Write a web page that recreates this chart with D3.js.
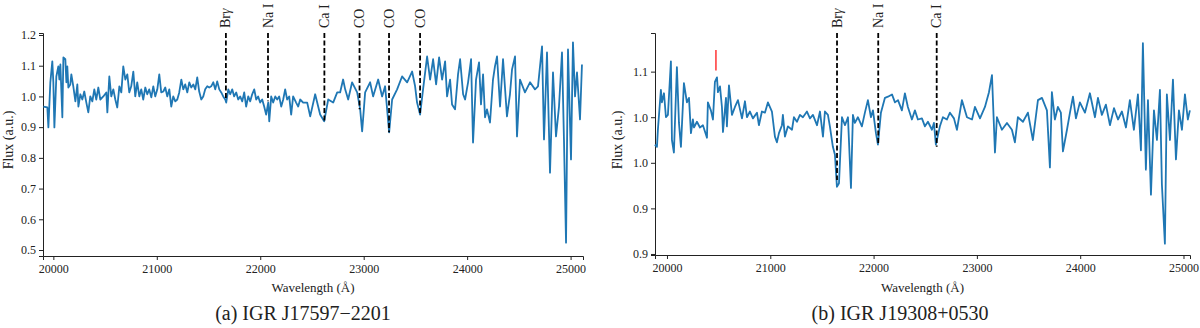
<!DOCTYPE html>
<meta charset="utf-8">
<style>
  body { margin: 0; background: #fff; }
  text { font-family: "Liberation Serif", "Times New Roman", serif; fill: #222; }
</style>
<svg id="fig" width="1200" height="328"></svg>
<script src="https://d3js.org/d3.v7.min.js"></script>
<script>

// (a) IGR J17597-2201 : wavelength (A) and normalised flux
var wlA = [19903,19942,19952,19971,19990,20000,20010,20029,20048,20058,20068,20087,20097,20116,20126,20135,20145,20164,20174,20193,
  20213,20232,20242,20261,20280,20299,20319,20338,20357,20377,20396,20415,20435,20454,20483,20512,20522,20541,20560,20580,
  20599,20618,20638,20657,20676,20696,20715,20734,20753,20773,20792,20811,20831,20850,20869,20889,20908,20927,20947,20966,
  20985,21005,21024,21043,21063,21082,21101,21121,21140,21159,21179,21198,21217,21237,21256,21275,21295,21314,21333,21353,
  21372,21391,21410,21430,21449,21468,21488,21507,21526,21546,21565,21584,21604,21623,21642,21662,21671,21691,21710,21729,
  21748,21768,21787,21806,21826,21845,21864,21884,21903,21922,21942,21961,21980,21999,22019,22038,22057,22077,22087,22106,
  22125,22145,22164,22183,22203,22222,22241,22260,22280,22299,22318,22347,22367,22386,22415,22454,22483,22531,22579,22618,
  22657,22705,22744,22772,22801,22821,22850,22888,22937,22966,22985,23014,23062,23091,23140,23178,23207,23246,23275,23323,
  23371,23420,23468,23497,23516,23545,23574,23613,23642,23671,23700,23729,23758,23787,23806,23835,23854,23883,23912,23932,
  23961,23980,24009,24038,24057,24086,24115,24134,24154,24173,24192,24221,24250,24269,24289,24318,24347,24385,24414,24434,
  24463,24482,24511,24559,24608,24656,24685,24724,24743,24772,24801,24830,24859,24888,24917,24936,24956,24975,25004,25023,
  25043,25062,25091,25110];
var fluxA = [0.967,0.964,0.899,1.046,1.114,1.046,0.899,1.065,1.098,1.055,1.104,0.932,1.127,1.121,1.046,1.098,1.029,1.039,1.072,1.033,
  0.984,1.039,0.967,1.007,0.990,1.016,0.980,0.948,1.000,0.984,1.023,0.990,1.029,0.990,1.000,1.013,0.948,1.065,1.000,1.023,
  0.990,0.964,1.033,1.013,1.098,1.055,1.072,1.013,1.033,1.081,1.000,1.046,1.000,1.023,0.990,1.029,1.007,1.023,0.997,1.033,
  1.000,1.023,1.072,1.013,1.016,1.029,1.000,1.023,0.967,1.000,0.984,0.990,1.013,1.055,1.023,1.039,1.013,1.046,1.029,1.039,
  1.023,1.062,1.016,0.990,1.000,1.023,1.033,1.029,1.033,1.046,1.023,1.049,1.023,1.013,1.000,0.990,0.980,1.023,1.007,1.023,
  1.000,1.013,0.990,1.000,0.984,1.013,0.967,1.000,0.984,1.007,1.023,0.990,1.000,0.980,0.990,0.967,0.941,0.980,0.919,1.000,
  0.980,1.000,0.990,1.000,0.967,0.990,1.023,0.990,1.000,0.941,1.000,0.980,0.967,0.990,0.980,0.980,0.935,1.007,0.941,0.919,
  0.990,0.980,1.013,1.013,1.055,1.023,0.990,1.046,1.013,0.958,0.886,1.013,1.046,1.000,1.055,1.000,1.033,0.883,0.990,1.023,
  1.065,1.046,1.081,1.033,0.980,0.941,1.023,1.130,1.055,1.121,1.039,1.127,1.055,1.114,1.000,1.055,0.974,0.958,1.072,1.121,
  1.007,0.990,1.046,1.121,0.850,1.055,1.111,0.974,1.072,0.932,0.958,0.915,1.055,1.098,1.130,0.967,1.121,0.935,1.007,1.088,
  1.130,0.870,1.055,1.013,1.046,1.023,1.033,1.163,0.860,1.143,0.752,1.078,0.870,0.967,1.143,0.860,0.524,1.153,0.795,1.176,
  1.000,1.078,0.925,1.104];

// (b) IGR J19308+0530
var wlB = [19883,19903,19912,19941,19951,19971,19990,20009,20038,20048,20067,20096,20116,20135,20164,20193,20213,20232,20251,20261,
  20290,20319,20348,20387,20396,20425,20445,20464,20484,20493,20513,20532,20542,20571,20580,20600,20629,20658,20687,20726,
  20755,20774,20803,20832,20871,20890,20919,20948,20977,21016,21045,21064,21084,21113,21122,21142,21171,21210,21229,21258,
  21287,21316,21355,21384,21413,21452,21481,21510,21529,21558,21577,21606,21626,21645,21665,21694,21723,21752,21781,21800,
  21819,21848,21887,21916,21945,21974,21994,22023,22042,22071,22110,22139,22178,22207,22236,22274,22303,22332,22371,22400,
  22429,22468,22497,22526,22565,22584,22603,22642,22671,22710,22739,22778,22807,22855,22904,22953,22981,23030,23078,23117,
  23146,23175,23194,23242,23291,23339,23368,23397,23446,23494,23542,23591,23630,23678,23707,23726,23755,23784,23813,23833,
  23872,23901,23930,23959,23997,24046,24094,24143,24172,24210,24249,24288,24327,24366,24404,24443,24481,24520,24559,24588,
  24607,24636,24656,24685,24714,24743,24772,24791,24820,24839,24869,24898,24927,24956,24985,25014,25042,25062];
var fluxB = [0.996,0.994,1.009,1.044,1.033,1.041,1.020,1.022,1.069,1.000,0.989,1.064,1.015,0.994,1.050,1.033,1.037,1.006,1.018,1.011,
  1.016,1.011,1.013,1.002,1.033,1.026,1.018,1.051,1.055,1.042,1.047,1.029,1.007,1.037,1.012,1.048,1.022,1.029,1.035,1.019,
  1.034,1.020,1.025,1.019,1.024,1.013,1.025,1.024,1.033,1.025,1.003,0.998,1.006,1.013,1.022,1.003,1.012,1.009,1.020,1.016,
  1.022,1.020,1.025,1.019,1.022,1.013,1.025,1.003,1.025,1.022,1.012,0.994,0.987,0.959,0.962,1.020,1.013,1.020,0.958,1.022,
  1.015,1.020,1.012,1.024,1.035,1.020,1.026,1.006,0.996,1.024,1.037,1.038,1.040,1.033,1.035,1.026,1.041,1.029,1.018,1.026,
  1.018,1.019,1.012,1.016,1.009,1.015,0.996,1.012,1.020,1.018,1.024,1.019,1.009,1.035,1.020,1.018,1.029,1.019,1.029,1.042,
  1.057,0.989,1.020,1.009,1.015,1.009,0.998,1.020,1.016,1.024,1.000,1.035,1.037,1.026,0.976,1.042,1.018,1.029,1.024,0.990,
  1.009,1.024,1.038,1.019,1.033,1.024,1.041,1.020,1.037,1.022,1.031,1.013,1.028,1.018,1.025,1.011,1.035,1.009,1.040,0.991,
  1.085,0.974,1.035,0.952,1.026,1.000,1.044,0.961,0.909,1.040,1.000,1.053,0.983,1.026,1.009,1.040,1.018,1.026];

// line identifications: wavelength and the flux where the dashed marker stops
var namesA = ["Br\u03b3", "Na I", "Ca I", "CO", "CO", "CO"];
var lineWlA = [21668, 22075, 22620, 22960, 23245, 23545];
var lineEndA = [0.990, 0.984, 0.919, 0.958, 0.883, 0.941];
var namesB = ["Br\u03b3", "Na I", "Ca I"];
var lineWlB = [21646, 22045, 22611];
var lineEndB = [0.965, 0.996, 0.994];

// red tick on panel b (wavelength, from flux, to flux)
var redMarkB = [20474, 1.061, 1.079];

var xTicks = [20000, 21000, 22000, 23000, 24000, 25000];
var yTicksA = [0.5, 0.6, 0.7, 0.8, 0.9, 1.0, 1.1, 1.2];
var yTicksB = [0.90, 0.94, 0.98, 1.02, 1.06];

var svg = d3.select("#fig");

function panel(o) {
  var x = d3.scaleLinear().domain(o.xDom).range([o.left, o.right]);
  var y = d3.scaleLinear().domain(o.yDom).range([o.bottom, o.top]);
  var g = svg.append("g");

  g.append("g")
    .attr("transform", "translate(0," + o.bottom + ")")
    .call(d3.axisBottom(x).tickValues(xTicks).tickFormat(d3.format("d")).tickSizeOuter(0).tickSize(4).tickPadding(4))
    .call(function(a) {
      a.selectAll("text").style("font-family", "Liberation Serif").style("font-size", "12px").attr("fill", "#222");
      a.selectAll("line,path").attr("stroke", "#222");
    });

  g.append("g")
    .attr("transform", "translate(" + o.left + ",0)")
    .call(d3.axisLeft(y).tickValues(o.yTicks).tickFormat(d3.format(".1f")).tickSizeOuter(0).tickSize(4).tickPadding(3))
    .call(function(a) {
      a.selectAll("text").style("font-family", "Liberation Serif").style("font-size", "12px").attr("fill", "#222");
      a.selectAll("line,path").attr("stroke", "#222");
    });

  var pts = o.wl.map(function(w, i) { return [w, o.flux[i]]; });
  g.append("path")
    .datum(pts)
    .attr("fill", "none")
    .attr("stroke", "#1f77b4")
    .attr("stroke-width", 1.8)
    .attr("stroke-linejoin", "round")
    .attr("d", d3.line().x(function(d) { return x(d[0]); }).y(function(d) { return y(d[1]); }));

  // dashed identifications
  o.names.forEach(function(n, i) {
    var lx = x(o.lineWl[i]);
    g.append("line")
      .attr("x1", lx).attr("x2", lx)
      .attr("y1", o.top).attr("y2", y(o.lineEnd[i]))
      .attr("stroke", "#000")
      .attr("stroke-width", 1.8)
      .attr("stroke-dasharray", "5,2.5");
    var t = g.append("text")
      .attr("transform", "translate(" + (lx + 4.5) + ",28) rotate(-90)")
      .style("font-size", "14px")
      .attr("fill", "#111");
    if (n.indexOf("\u03b3") >= 0) {
      t.append("tspan").text("Br");
      t.append("tspan").style("font-style", "italic").text("\u03b3");
    } else {
      t.text(n);
    }
  });

  if (o.mark) {
    g.append("line")
      .attr("x1", x(o.mark[0])).attr("x2", x(o.mark[0]))
      .attr("y1", y(o.mark[1])).attr("y2", y(o.mark[2]))
      .attr("stroke", "red").attr("stroke-width", 1.2);
  }

  g.append("text")
    .attr("transform", "translate(" + o.ylabX + ",140) rotate(-90)")
    .attr("text-anchor", "middle")
    .style("font-size", "14px")
    .text("Flux (a.u.)");

  g.append("text")
    .attr("x", (o.left + o.right) / 2).attr("y", 292)
    .attr("text-anchor", "middle")
    .style("font-size", "13px")
    .text("Wavelength (\u00c5)");

  g.append("text")
    .attr("x", o.capX).attr("y", 320)
    .attr("text-anchor", "middle")
    .style("font-size", "20px")
    .text(o.caption);
}

panel({
  wl: wlA, flux: fluxA, names: namesA, lineWl: lineWlA, lineEnd: lineEndA,
  xDom: [19900, 25120], yDom: [0.4805, 1.2065], yTicks: yTicksA,
  left: 43, right: 583, top: 33, bottom: 256, ylabX: 13, capX: 303,
  caption: "(a) IGR J17597\u22122201"
});

panel({
  wl: wlB, flux: fluxB, names: namesB, lineWl: lineWlB, lineEnd: lineEndB, mark: redMarkB,
  xDom: [19884, 25063], yDom: [0.8991, 1.0939], yTicks: yTicksB,
  left: 655, right: 1190, top: 33, bottom: 255, ylabX: 622, capX: 900,
  caption: "(b) IGR J19308+0530"
});

</script>
